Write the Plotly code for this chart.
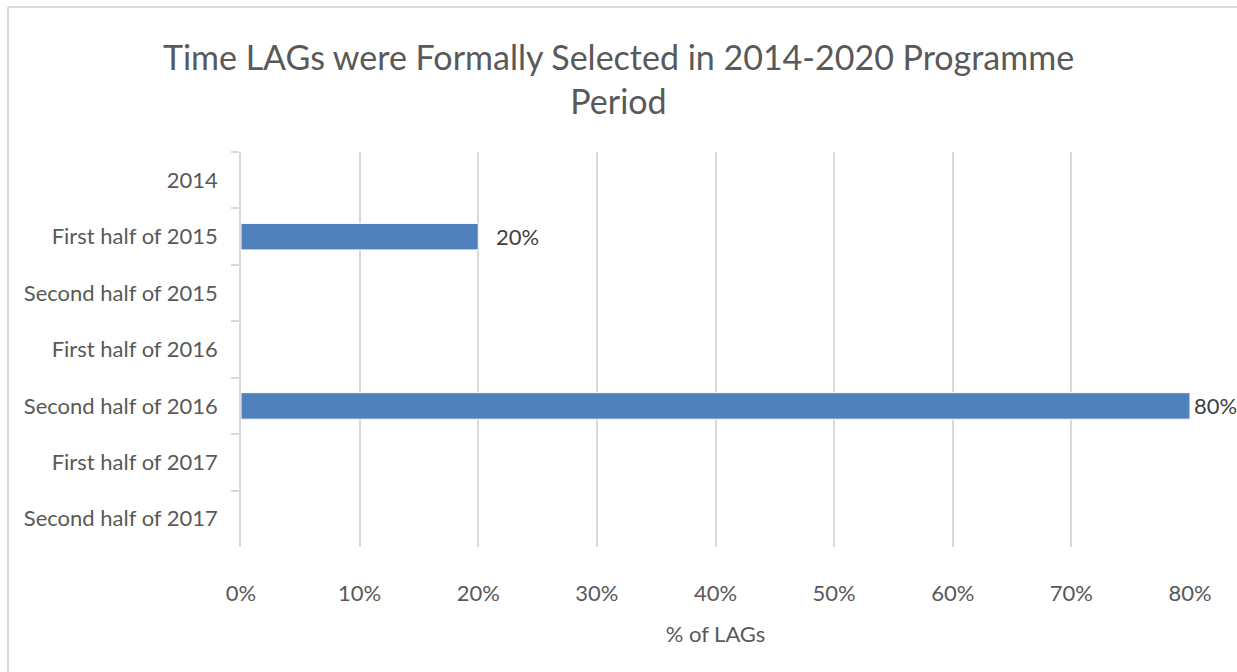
import plotly.graph_objects as go

categories = ["2014", "First half of 2015", "Second half of 2015", "First half of 2016",
              "Second half of 2016", "First half of 2017", "Second half of 2017"]
values = [0, 20, 0, 0, 80, 0, 0]
label_texts = ["", "20%", "", "", "80%", "", ""]
label_shift = [0, 16, 0, 0, 2, 0, 0]
x_ticks = [0, 10, 20, 30, 40, 50, 60, 70, 80]
x_tick_labels = [f"{t}%" for t in x_ticks]

FONT = "Lato"
GREY = "#595959"
LINE = "#d9d9d9"

L, R, T, B = 241, 47, 152, 125
W, H = 1237, 672
pw, ph = W - L - R, H - T - B

fig = go.Figure()
fig.add_trace(go.Bar(
    x=values, y=categories, orientation="h",
    marker=dict(color="#4F81BD", line=dict(color="white", width=1)),
    width=0.47, hoverinfo="skip",
))

for c, v, t, s in zip(categories, values, label_texts, label_shift):
    if t:
        fig.add_annotation(x=v, y=c, text=t, showarrow=False, xanchor="left",
                           xshift=s, font=dict(family=FONT, size=22, color="#404040"))

# chart-area border (top and left edges visible in the reference)
bx0 = (8 - L) / pw
by1 = (T + ph - 7) / ph
fig.add_shape(type="line", xref="paper", yref="paper",
              x0=bx0, x1=(W + 20 - L) / pw, y0=by1, y1=by1,
              line=dict(color=LINE, width=2), layer="below")
fig.add_shape(type="line", xref="paper", yref="paper",
              x0=bx0, x1=bx0, y0=(T + ph - (H + 20)) / ph, y1=by1,
              line=dict(color=LINE, width=2), layer="below")

fig.update_layout(
    width=W, height=H,
    margin=dict(l=L, r=R, t=T, b=B, pad=0),
    paper_bgcolor="white", plot_bgcolor="white",
    showlegend=False,
    title=dict(text="Time LAGs were Formally Selected in 2014-2020 Programme<br>Period",
               x=0.5, xanchor="center", xref="container",
               y=1 - 70 / H, yanchor="top", yref="container",
               font=dict(family=FONT, size=34, color=GREY)),
    font=dict(family=FONT, color=GREY),
    xaxis=dict(range=[0, 80], tickvals=x_ticks, ticktext=x_tick_labels,
               showgrid=True, gridcolor=LINE, gridwidth=1.5, zeroline=False,
               showline=False, ticks="", tickfont=dict(size=22, color=GREY),
               ticklabelstandoff=31, automargin=False,
               title=dict(text="% of LAGs", font=dict(size=22, color=GREY), standoff=21)),
    yaxis=dict(categoryorder="array", categoryarray=categories, autorange="reversed",
               showgrid=False, zeroline=False, showline=True, linecolor=LINE, linewidth=1.5,
               ticks="outside", tickson="boundaries", ticklen=8, tickcolor=LINE, tickwidth=1.5,
               tickfont=dict(size=22, color=GREY), ticklabelstandoff=17, automargin=False),
    bargap=0.53,
)

fig.write_html("out.html", config={"displayModeBar": False},
               post_script="document.body.style.margin='0';document.body.style.overflow='hidden';")
